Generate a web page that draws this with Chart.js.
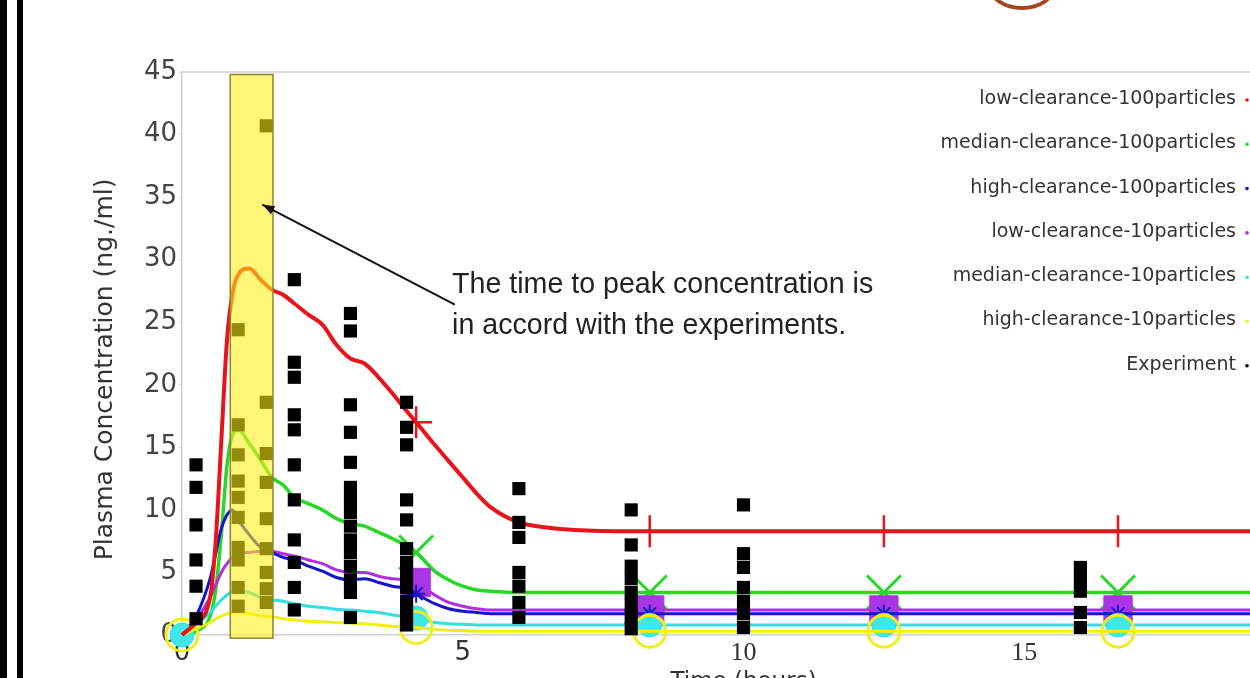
<!DOCTYPE html>
<html lang="en">
<head>
<meta charset="UTF-8">
<title>Plasma Concentration</title>
<script src="https://cdn.jsdelivr.net/npm/chart.js@4.4.1/dist/chart.umd.min.js"></script>
<style>
    html, body { margin: 0; padding: 0; background: #fff; overflow: hidden; }
    /* 元画像は右と下が切れているので、キャンバスは少し大きめに取る */
    #wrap { position: absolute; left: 0; top: 0; width: 1310px; height: 700px; }
    .frame { position: absolute; top: 0; bottom: 0; background: #000; }
    #arc { position: absolute; left: 988px; top: -38px; width: 60px; height: 40px;
           border: 4px solid #a4461f; border-radius: 50%; }
</style>
</head>
<body>
<div id="wrap"><canvas id="pkChart"></canvas></div>
<div class="frame" style="left:0;width:7px"></div>
<div class="frame" style="left:17px;width:6px"></div>
<div id="arc"></div>

<script>
/**
 * 血漿中濃度シミュレーション vs 実験値
 * 値はすべて画像から目で読み取ったもの
 */

// 時間軸（hour）
const times = [0, 0.25, 0.5, 0.6, 0.7, 0.8, 0.9, 1, 1.2, 1.4, 1.6, 1.8, 2, 2.25, 2.5, 2.75, 3, 3.25, 3.5, 3.75,
               4, 4.17, 4.5, 4.75, 5, 5.25, 5.5, 6, 6.5, 7, 8, 8.33, 10, 12.5, 14, 16.67, 20];

// シミュレーション結果（ng./ml）
const lowClearance100 = [0, 1.0, 3.0, 7.5, 15.5, 23.5, 27.3, 28.8, 29.3, 28.4, 27.6, 27.2, 26.5, 25.6, 24.8, 23.2, 22.1, 21.7, 20.6, 19.3,
                         17.9, 17.0, 15.2, 13.9, 12.6, 11.3, 10.2, 9.0, 8.6, 8.4, 8.3, 8.3, 8.3, 8.3, 8.3, 8.3, 8.3];
const medianClearance100 = [0, 0.3, 1.5, 3.6, 8.0, 13.5, 16.0, 16.4, 15.3, 14.0, 12.6, 12.0, 11.0, 10.5, 10.0, 9.3, 8.9, 8.7, 8.2, 7.7,
                            7.1, 6.6, 5.1, 4.4, 3.9, 3.6, 3.5, 3.4, 3.4, 3.4, 3.4, 3.4, 3.4, 3.4, 3.4, 3.4, 3.4];
const highClearance100 = [0, 1.5, 4.5, 6.5, 8.5, 9.6, 10.0, 9.2, 8.0, 7.0, 6.6, 6.2, 6.0, 5.5, 5.1, 4.6, 4.4, 4.5, 4.2, 3.9,
                          3.7, 3.3, 2.5, 2.1, 1.9, 1.8, 1.7, 1.7, 1.7, 1.7, 1.7, 1.7, 1.7, 1.7, 1.7, 1.7, 1.7];
const lowClearance10 = [0, 1.2, 3.0, 4.0, 5.0, 5.7, 6.2, 6.5, 6.6, 6.7, 6.7, 6.5, 6.3, 6.0, 5.7, 5.2, 5.0, 5.0, 4.7, 4.5,
                        4.4, 4.2, 3.2, 2.6, 2.3, 2.1, 2.0, 2.0, 2.0, 2.0, 2.0, 2.0, 2.0, 2.0, 2.0, 2.0, 2.0];
const medianClearance10 = [0, 0.8, 1.8, 2.3, 2.8, 3.2, 3.5, 3.6, 3.4, 3.0, 2.8, 2.7, 2.5, 2.3, 2.2, 2.05, 2.0, 1.9, 1.8, 1.6,
                           1.45, 1.35, 1.0, 0.9, 0.85, 0.8, 0.8, 0.8, 0.8, 0.8, 0.8, 0.8, 0.8, 0.8, 0.8, 0.8, 0.8];
const highClearance10 = [0, 0.5, 1.0, 1.3, 1.5, 1.7, 1.8, 1.8, 1.7, 1.55, 1.45, 1.3, 1.2, 1.1, 1.05, 1.0, 0.95, 0.9, 0.8, 0.7,
                         0.65, 0.6, 0.45, 0.38, 0.35, 0.3, 0.3, 0.3, 0.3, 0.3, 0.3, 0.3, 0.3, 0.3, 0.3, 0.3, 0.3];

// マーカーを打つ時刻
const markerTimes = [4.17, 8.33, 12.5, 16.67];

// 実験値（時刻ごとの測定値）
const expTimes = [0.25, 1, 1.5, 2, 3, 4, 6, 8, 10, 16];
const expValues = [
    [13.6, 11.8, 8.8, 6.0, 3.9, 1.3],
    [24.4, 16.8, 14.4, 12.3, 11.0, 9.4, 7.0, 6.0, 3.8, 2.3],
    [40.7, 18.6, 14.5, 12.2, 9.3, 6.9, 5.0, 3.7, 2.6],
    [28.4, 21.8, 20.6, 17.6, 16.4, 13.6, 10.8, 7.6, 5.8, 3.8, 2.0],
    [25.7, 24.3, 18.4, 16.2, 13.8, 11.8, 10.8, 9.8, 8.7, 7.6, 6.6, 5.5, 4.4, 3.4, 1.4],
    [18.6, 16.6, 15.2, 10.8, 9.2, 6.9, 5.8, 4.8, 3.8, 2.7, 1.7, 0.8],
    [11.7, 9.0, 7.8, 5.0, 3.9, 2.6, 1.4],
    [10.0, 7.2, 5.5, 4.5, 3.4, 2.4, 1.4, 0.5],
    [10.4, 6.5, 5.4, 3.8, 2.7, 1.7, 0.6],
    [5.4, 4.4, 3.5, 1.8, 0.6]
];

const seriesLabels = ['low-clearance-100particles', 'median-clearance-100particles', 'high-clearance-100particles',
                      'low-clearance-10particles', 'median-clearance-10particles', 'high-clearance-10particles'];
const expLabel = 'Experiment';

// 軸
const xMax = 20;
const yMax = 45;
const tickStep = 5;
const lastShownTick = 15; // 20 は画面外なのでラベルを出さない

// 注釈テキスト
const noteLines = ['The time to peak concentration is', 'in accord with the experiments.'];

// ピーク付近の強調範囲（hour）
const peakWindow = [0.86, 1.62];

/**
 * 系列ごとの見た目
 */
const seriesStyles = [
    { color: '#e8141c', width: 4,   point: 'cross',    radius: 16, pointWidth: 2.5, fill: '#e8141c', order: 1, atStart: false },
    { color: '#25d925', width: 3.5, point: 'crossRot', radius: 24, pointWidth: 3,   fill: '#25d925', order: 6, atStart: false },
    { color: '#1414c8', width: 3,   point: 'star',     radius: 9,  pointWidth: 2,   fill: '#1414c8', order: 4, atStart: false },
    { color: '#b02ee0', width: 3,   point: 'rect',     radius: 20, pointWidth: 1,   fill: '#a935e6', order: 5, atStart: false },
    { color: '#2fe0e4', width: 3,   point: 'circle',   radius: 12, pointWidth: 1,   fill: '#3ee8e8', order: 3, atStart: true },
    { color: '#eeee1c', width: 3,   point: 'circle',   radius: 16, pointWidth: 3,   fill: 'rgba(0,0,0,0)', order: 2, atStart: true }
];
const seriesValues = [lowClearance100, medianClearance100, highClearance100, lowClearance10, medianClearance10, highClearance10];

function buildSeries(values, label, style) {
    return {
        label: label,
        data: times.map((t, i) => ({ x: t, y: values[i] })),
        borderColor: style.color,
        borderWidth: style.width,
        cubicInterpolationMode: 'monotone',
        pointStyle: style.point,
        pointRadius: ctx => {
            const t = times[ctx.dataIndex];
            return markerTimes.includes(t) || (style.atStart && t === 0) ? style.radius : 0;
        },
        pointBorderColor: style.color,
        pointBackgroundColor: style.fill,
        pointBorderWidth: style.pointWidth,
        clip: false,
        order: style.order
    };
}

function buildExperiment() {
    const pts = [];
    expTimes.forEach((t, i) => expValues[i].forEach(v => pts.push({ x: t, y: v })));
    return {
        label: expLabel,
        data: pts,
        showLine: false,
        pointStyle: 'rect',
        pointRadius: 9.3,
        pointBackgroundColor: '#000',
        pointBorderWidth: 0,
        borderColor: '#000',
        clip: false,
        order: 0
    };
}

// 上辺の枠線
const frameTopPlugin = {
    id: 'frameTop',
    beforeDatasetsDraw(chart) {
        const { ctx, chartArea } = chart;
        ctx.save();
        ctx.strokeStyle = '#d0d0d0';
        ctx.lineWidth = 1.5;
        ctx.beginPath();
        ctx.moveTo(chartArea.left, chartArea.top);
        ctx.lineTo(chartArea.right, chartArea.top);
        ctx.stroke();
        ctx.restore();
    }
};

// ピーク時刻の黄色い帯（データの上に半透明で重ねる）
const highlightPlugin = {
    id: 'peakHighlight',
    afterDatasetsDraw(chart) {
        const { ctx, scales: { x, y } } = chart;
        const left = x.getPixelForValue(peakWindow[0]);
        const right = x.getPixelForValue(peakWindow[1]);
        const top = y.getPixelForValue(44.8);
        const bottom = y.getPixelForValue(-0.25);
        ctx.save();
        ctx.fillStyle = 'rgba(255, 240, 20, 0.58)';
        ctx.fillRect(left, top, right - left, bottom - top);
        ctx.strokeStyle = '#8c8430';
        ctx.lineWidth = 1.5;
        ctx.strokeRect(left, top, right - left, bottom - top);
        ctx.restore();
    }
};

// 注釈と矢印
const notePlugin = {
    id: 'peakNote',
    afterDraw(chart) {
        const { ctx, scales: { x, y } } = chart;
        const tx = x.getPixelForValue(4.81);
        const ty = y.getPixelForValue(28.0);
        ctx.save();
        ctx.font = '28.6px "Liberation Sans", Arial, sans-serif';
        ctx.fillStyle = '#222';
        ctx.textAlign = 'left';
        ctx.textBaseline = 'middle';
        noteLines.forEach((line, i) => ctx.fillText(line, tx, ty + i * 41));

        const x0 = x.getPixelForValue(4.86), y0 = y.getPixelForValue(26.4);
        const x1 = x.getPixelForValue(1.43), y1 = y.getPixelForValue(34.4);
        const ang = Math.atan2(y1 - y0, x1 - x0);
        ctx.strokeStyle = '#111';
        ctx.lineWidth = 2;
        ctx.beginPath();
        ctx.moveTo(x0, y0);
        ctx.lineTo(x1, y1);
        ctx.stroke();
        ctx.fillStyle = '#111';
        ctx.beginPath();
        ctx.moveTo(x1, y1);
        ctx.lineTo(x1 - 13 * Math.cos(ang - 0.35), y1 - 13 * Math.sin(ang - 0.35));
        ctx.lineTo(x1 - 13 * Math.cos(ang + 0.35), y1 - 13 * Math.sin(ang + 0.35));
        ctx.closePath();
        ctx.fill();
        ctx.restore();
    }
};

// 右上の凡例（右寄せ＋小さな色点）
const sideLegendPlugin = {
    id: 'sideLegend',
    afterDraw(chart) {
        const { ctx } = chart;
        ctx.save();
        ctx.font = '19px "DejaVu Sans", Verdana, sans-serif';
        ctx.textAlign = 'right';
        ctx.textBaseline = 'middle';
        chart.data.datasets.forEach((ds, i) => {
            const yy = 99 + i * 44.3;
            ctx.fillStyle = '#333';
            ctx.fillText(ds.label, 1236, yy);
            ctx.fillStyle = ds.borderColor;
            ctx.beginPath();
            ctx.arc(1247, yy + 1, 1.8, 0, Math.PI * 2);
            ctx.fill();
        });
        ctx.restore();
    }
};

document.addEventListener('DOMContentLoaded', () => {
    Chart.defaults.font.family = '"DejaVu Sans", Verdana, sans-serif';

    const datasets = seriesValues.map((v, i) => buildSeries(v, seriesLabels[i], seriesStyles[i]));
    datasets.push(buildExperiment());

    new Chart(document.getElementById('pkChart'), {
        type: 'line',
        data: { datasets: datasets },
        options: {
            responsive: true,
            maintainAspectRatio: false,
            animation: false,
            events: [],
            layout: { autoPadding: false, padding: { top: 72, right: 5, left: 0, bottom: 0 } },
            plugins: { legend: { display: false }, tooltip: { enabled: false } },
            scales: {
                x: {
                    type: 'linear',
                    min: 0,
                    max: xMax,
                    afterFit: s => { s.height = 65; },
                    ticks: {
                        stepSize: tickStep,
                        color: '#333',
                        padding: 3,
                        callback: v => (v <= lastShownTick ? v : ''),
                        font: c => ({
                            family: c.tick && c.tick.value >= 10 ? '"Liberation Serif", serif' : '"DejaVu Sans", sans-serif',
                            size: 26
                        })
                    },
                    grid: { drawOnChartArea: false, drawTicks: false },
                    border: { color: '#cfcfcf', width: 1.5 },
                    title: {
                        display: true,
                        text: 'Time (hours)',
                        color: '#333',
                        font: { size: 23 },
                        padding: { top: 0, bottom: 4 }
                    }
                },
                y: {
                    min: 0,
                    max: yMax,
                    afterFit: s => { s.width = 182; },
                    ticks: { stepSize: tickStep, color: '#444', padding: 2, font: { size: 26 } },
                    grid: { drawOnChartArea: false, tickLength: 3, color: '#d8d8d8' },
                    border: { color: '#cfcfcf', width: 1.5 },
                    title: {
                        display: true,
                        text: 'Plasma Concentration (ng./ml)    ',
                        color: '#333',
                        font: { size: 25 },
                        padding: { top: 90, bottom: 0 }
                    }
                }
            }
        },
        plugins: [frameTopPlugin, highlightPlugin, notePlugin, sideLegendPlugin]
    });
});
</script>
</body>
</html>
